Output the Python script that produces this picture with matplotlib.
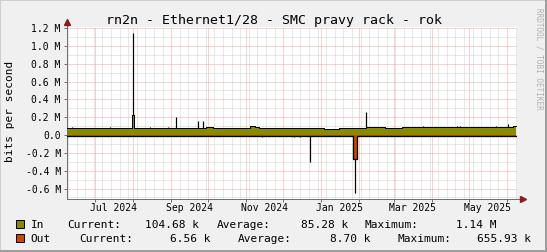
import matplotlib
matplotlib.use("Agg")
import matplotlib.pyplot as plt
import matplotlib.dates as mdates
from matplotlib.patches import Rectangle
from matplotlib.ticker import FuncFormatter, MultipleLocator, NullFormatter
import pandas as pd

# ---------------------------------------------------------------------------
# Data (kbit/s), step series
# ---------------------------------------------------------------------------
in_dates = ["2024-06-08", "2024-07-31", "2024-08-02", "2024-09-29", "2024-10-05",
            "2024-11-04", "2024-11-08", "2024-11-11", "2024-11-23", "2025-01-03",
            "2025-01-15", "2025-02-06", "2025-02-22", "2025-03-08", "2025-06-06",
            "2025-06-08"]
in_avg = [78, 220, 78, 85, 78, 100, 85, 80, 78, 64, 78, 93, 78, 93, 105, 105]

in_max_dates = ["2024-06-12", "2024-07-13", "2024-08-01", "2024-08-15", "2024-08-29",
                "2024-09-05", "2024-09-23", "2024-09-27", "2024-10-05", "2025-01-07",
                "2025-01-13", "2025-02-06", "2025-02-22", "2025-03-25", "2025-04-21",
                "2025-04-24", "2025-05-23", "2025-06-02"]
in_max = [93, 86, 1140, 86, 86, 198, 157, 157, 93, 72, 72, 257, 95, 98, 98, 98, 98, 123]

out_dates = ["2024-06-08", "2025-01-27", "2025-01-30", "2025-06-08"]
out_avg = [6.5, 270, 6.5, 6.5]

out_max_dates = ["2024-11-14", "2024-12-10", "2024-12-15", "2024-12-23", "2025-01-28"]
out_max = [25, 25, 25, 306, 656]

month_labels = ["Jul 2024", "Sep 2024", "Nov 2024", "Jan 2025", "Mar 2025", "May 2025"]

title = "rn2n - Ethernet1/28 - SMC pravy rack - rok"
legend_rows = [
    ("In", "#858c00", ["Current:", "104.68 k", "Average:", "85.28 k", "Maximum:", "1.14 M"]),
    ("Out", "#c84800", ["Current:", "6.56 k", "Average:", "8.70 k", "Maximum:", "655.93 k"]),
]

# ---------------------------------------------------------------------------
W, H = 547, 252
MONO = "DejaVu Sans Mono"
plt.rcParams["font.family"] = MONO
AXIS_C = "#707070"
ARROW_C = "#8b1a1a"
PX = 0.72  # one pixel in points at dpi 100


def fx(x):
    return x / W


def fy(y):
    return 1 - y / H


fig = plt.figure(figsize=(W / 100, H / 100), dpi=100, facecolor="#f0f0f0")

# canvas shading (rrdtool style)
fig.patches.append(Rectangle((0, 0), 1, 1, transform=fig.transFigure,
                             fill=False, ec="#cfcfcf", lw=2 * PX))
fig.add_artist(plt.Line2D([fx(W - 1), fx(W - 1)], [0, 1], color="#9e9e9e", lw=2 * PX))
fig.add_artist(plt.Line2D([0, 1], [fy(H - 1), fy(H - 1)], color="#9e9e9e", lw=2 * PX))

left, right, top, bottom = 67, 517, 26.5, 199
ax = fig.add_axes([fx(left), fy(bottom), fx(right - left), (bottom - top) / H])
ax.set_facecolor("white")

ind = pd.to_datetime(in_dates)
outd = pd.to_datetime(out_dates)
out_neg = [-v for v in out_avg]

# max spikes (drawn under the areas, visible only where they exceed them)
ax.vlines(pd.to_datetime(in_max_dates), 0, in_max, color="black", lw=PX * 1.2, zorder=1.5)
ax.vlines(pd.to_datetime(out_max_dates), 0, [-v for v in out_max], color="black",
          lw=PX * 1.2, zorder=1.5)

ax.fill_between(ind, 0, in_avg, step="post", color="#858c00", lw=0, zorder=2)
ax.fill_between(outd, 0, out_neg, step="post", color="#c84800", lw=0, zorder=2)
ax.step(ind, in_avg, where="post", color="black", lw=PX, zorder=3)
ax.step(outd, out_neg, where="post", color="black", lw=PX * 1.3, zorder=3)

x0, x1 = pd.Timestamp("2024-06-08 05:45"), pd.Timestamp("2025-06-09 02:20")
ax.set_xlim(x0, x1)
ax.set_ylim(-717.7, 1216.8)

# grid
ax.yaxis.set_major_locator(MultipleLocator(200))
ax.yaxis.set_minor_locator(MultipleLocator(100))
ax.xaxis.set_major_locator(mdates.MonthLocator())
ax.xaxis.set_minor_locator(mdates.WeekdayLocator(byweekday=mdates.SU))
ax.xaxis.set_major_formatter(NullFormatter())
ax.yaxis.set_major_formatter(FuncFormatter(
    lambda v, p: "0.0" if abs(v) < 1e-6 else f"{v / 1000:.1f} M"))
ax.set_axisbelow(True)
ax.grid(which="minor", color="#d2d2d2", lw=PX, ls=(0, (1, 1)))
ax.grid(which="major", color="#f4a4a4", lw=PX, ls=(0, (1, 1)))

ax.tick_params(which="major", axis="x", length=2, width=PX, color=AXIS_C)
ax.tick_params(which="major", axis="y", length=2, width=PX, color=AXIS_C,
               labelsize=7, pad=2.5, labelcolor="black")
ax.tick_params(which="minor", length=0)

for s in ("top", "right"):
    ax.spines[s].set_visible(False)
for s in ("left", "bottom"):
    ax.spines[s].set_color(AXIS_C)
    ax.spines[s].set_linewidth(PX)
ax.spines["left"].set_bounds(-717.7, 1260)
ax.spines["bottom"].set_bounds(mdates.date2num(x0),
                               mdates.date2num(pd.Timestamp("2025-06-11")))
ax.plot([1.013], [0], marker=">", ms=4, color=ARROW_C, transform=ax.transAxes,
        clip_on=False, zorder=5)
ax.plot([0], [1.026], marker="^", ms=4, color=ARROW_C, transform=ax.transAxes,
        clip_on=False, zorder=5)

# month labels centred in the middle of the month
for lab in month_labels:
    d = pd.to_datetime(lab, format="%b %Y") + pd.Timedelta(days=15)
    ax.text(d, -0.052, lab, transform=ax.get_xaxis_transform(), ha="center",
            va="center", fontsize=7)

fig.text(fx(274), fy(24), title, ha="center", va="baseline", fontsize=9.5)
fig.text(fx(10), fy(111.5), "bits per second", rotation=90, ha="center", va="center",
         fontsize=8)
fig.text(fx(539), fy(58.5), "RRDTOOL / TOBI OETIKER", rotation=270, ha="center",
         va="center", fontsize=5.5, color="#b0b0b0")

# legend
row_y = [228, 241.7]
box_y = [220, 233.5]
pos = [
    [(67.7, "left"), (199, "right"), (216.7, "left"), (348, "right"), (364.7, "left"),
     (496.7, "right")],
    [(79, "left"), (210, "right"), (238, "left"), (370, "right"), (398, "left"),
     (530.7, "right")],
]
for (name, col, parts), y, by, pp in zip(legend_rows, row_y, box_y, pos):
    fig.patches.append(Rectangle((fx(15.7), fy(by + 8.3)), 8.3 / W, 8.3 / H,
                                 transform=fig.transFigure, fc=col, ec="black", lw=PX))
    fig.text(fx(30.7), fy(y), name, ha="left", va="baseline", fontsize=8)
    for txt, (x, ha) in zip(parts, pp):
        fig.text(fx(x), fy(y), txt, ha=ha, va="baseline", fontsize=8)

fig.savefig("out.png", dpi=100, facecolor=fig.get_facecolor())
